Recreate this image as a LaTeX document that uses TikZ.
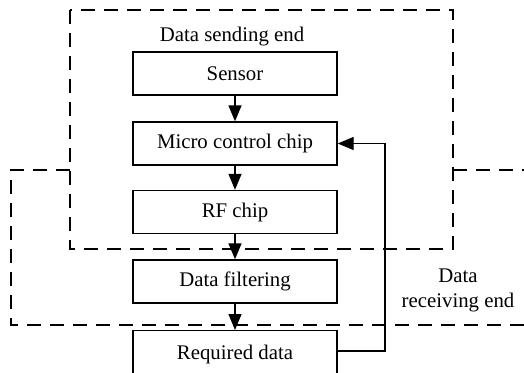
\documentclass[tikz,border=0pt]{standalone}
\usepackage{fontspec}
\setmainfont{Liberation Serif}
\usetikzlibrary{arrows.meta}
\begin{document}
\begin{tikzpicture}[x=0.5pt,y=-0.5pt,
  blockbox/.style={draw,line width=0.7pt,minimum width=102pt,minimum height=21.5pt,inner sep=0pt,font=\fontsize{10.4}{12}\selectfont},
  flow/.style={line width=0.7pt,-{Triangle[length=8pt,width=6.5pt]}},
  region/.style={line width=0.7pt,dash pattern=on 7pt off 4.5pt},
  caption/.style={font=\fontsize{10.4}{12.5}\selectfont,align=center,inner sep=0pt}]
\useasboundingbox (0,0) rectangle (524,372);

% processing blocks
\node[blockbox] (sensor) at (235,73.5) {Sensor};
\node[blockbox] (mcu)    at (235,143.5) {Micro control chip};
\node[blockbox] (rf)     at (235,212) {RF chip};
\node[blockbox] (filt)   at (235,281.5) {Data filtering};
\node[blockbox,minimum height=24pt,anchor=north] (req) at (235,330) {\raisebox{2pt}{Required data}};

% sending and receiving regions
\draw[region] (70,10) rectangle (453,249);
\coordinate (recvA) at (70,170);
\coordinate (recvB) at (11,170);
\coordinate (recvC) at (11,325);
\coordinate (recvD) at (540,325);
\coordinate (recvE) at (453,170);
\coordinate (recvF) at (540,170);
\draw[region] (recvA) -- (recvB) -- (recvC) -- (recvD);
\draw[region] (recvE) -- (recvF);

\node[caption] (sendlbl) at (232,36.5) {Data sending end};
\node[caption] (recvlbl) at (458,290) {Data\\receiving end};

% signal flow
\draw[flow] (sensor) -- (mcu);
\draw[flow] (mcu) -- (rf);
\draw[flow] (rf) -- (filt);
\draw[flow] (filt) -- (req);
\coordinate (fbturn) at (385,351);
\draw[flow] (req.east |- fbturn) -- (fbturn) |- (mcu.east);
\end{tikzpicture}
\end{document}
